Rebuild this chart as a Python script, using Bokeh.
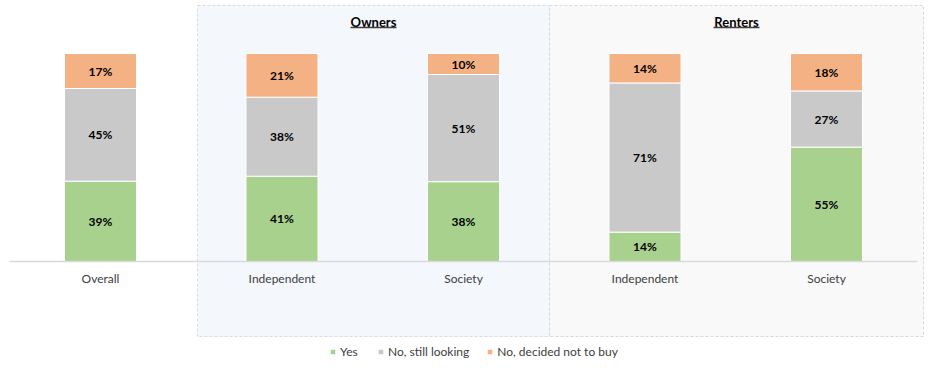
from bokeh.plotting import figure
from bokeh.models import ColumnDataSource, FixedTicker, Legend, LegendItem
from bokeh.core.properties import value
from bokeh.embed import file_html
from bokeh.resources import INLINE

# ---------------- data ----------------
categories = ["Overall", "Independent", "Society", "Independent", "Society"]
yes = [39, 41, 38, 14, 55]
still_looking = [45, 38, 51, 71, 27]
decided_not = [17, 21, 10, 14, 18]
series_names = ["Yes", "No, still looking", "No, decided not to buy"]
groups = ["Owners", "Renters"]

colors = ["#A9D18E", "#C9C9C9", "#F4B183"]
FONT = "Lato"

# ---------------- derived (normalised 100% stack) ----------------
xs = list(range(len(categories)))
totals = [a + b + c for a, b, c in zip(yes, still_looking, decided_not)]
n_yes = [v / t * 100 for v, t in zip(yes, totals)]
n_still = [v / t * 100 for v, t in zip(still_looking, totals)]
n_dec = [v / t * 100 for v, t in zip(decided_not, totals)]

src = ColumnDataSource(dict(x=xs, yes=n_yes, still=n_still, dec=n_dec))

# ---------------- figure ----------------
W, H = 924, 359
CX, SX = 100, 181.5   # x px = CX + SX*x
BY, SY = 261, 2.08    # y px (from top) = BY - SY*v
x0 = -CX / SX
x1 = (W - CX) / SX
y_top = BY / SY
y_bot = (BY - H) / SY

p = figure(width=W, height=H, output_backend="svg", toolbar_location=None,
           x_range=(x0, x1), y_range=(y_bot, y_top), min_border=0,
           background_fill_color="white", border_fill_color="white")
p.outline_line_color = None
p.grid.visible = False
p.yaxis.visible = False

# group background boxes
box_left = [(197 - CX) / SX, (549 - CX) / SX]
box_right = [(549 - CX) / SX, (923 - CX) / SX]
box_top = [(BY - 5) / SY] * 2
box_bottom = [(BY - 336) / SY] * 2
p.quad(left=box_left, right=box_right, top=box_top, bottom=box_bottom,
       fill_color=["#F4F7FC", "#F9F9F9"], line_color=["#D6DCE5", "#D9D9D9"],
       line_dash="3 2", line_width=1)

# group titles (bold, underlined)
gx = [(box_left[i] + box_right[i]) / 2 for i in range(2)]
gy = [(BY - 21) / SY] * 2
p.text(x=gx, y=gy, text=groups, text_font=value(FONT), text_font_style="bold",
       text_font_size="13px", text_align="center", text_baseline="middle",
       text_color="#000000")
uw = 46 / SX / 2
uy = [(BY - 27) / SY] * 2
p.segment(x0=[g - uw for g in gx], x1=[g + uw for g in gx], y0=uy, y1=uy,
          line_color="#404040", line_width=1.6)

# stacked bars
rs = p.vbar_stack(["yes", "still", "dec"], x="x", width=0.397, source=src,
                  fill_color=colors, line_color="white", line_width=1)

# value labels
lab_x, lab_y, lab_t = [], [], []
for i in xs:
    base = 0
    for raw, nv in zip([yes[i], still_looking[i], decided_not[i]],
                       [n_yes[i], n_still[i], n_dec[i]]):
        lab_x.append(i)
        lab_y.append(base + nv / 2)
        lab_t.append(f"{raw}%")
        base += nv
p.text(x=lab_x, y=lab_y, text=lab_t, text_font=value(FONT), text_font_style="bold",
       text_font_size="12px", text_align="center", text_baseline="middle",
       text_color="#000000")

# x axis at zero
ax = p.xaxis[0]
ax.fixed_location = 0
ax.ticker = FixedTicker(ticks=xs)
ax.major_label_overrides = {i: c for i, c in zip(xs, categories)}
ax.bounds = (-0.5, 4.5)
ax.axis_line_color = "#D9D9D9"
ax.axis_line_width = 1.5
ax.major_tick_line_color = None
ax.minor_tick_line_color = None
ax.major_label_standoff = 3
ax.major_label_text_font = FONT
ax.major_label_text_font_size = "12px"
ax.major_label_text_color = "#404040"

# legend
legend = Legend(items=[LegendItem(label=n, renderers=[r]) for n, r in zip(series_names, rs)],
                orientation="horizontal", location=(329, 0),
                glyph_width=7, glyph_height=7, label_standoff=4, spacing=17,
                padding=0, margin=0, label_text_font=FONT, label_text_font_size="12px",
                label_text_color="#404040", label_height=12,
                background_fill_alpha=0, border_line_color=None)
p.add_layout(legend)

open("out.html", "w").write(file_html(p, INLINE))
